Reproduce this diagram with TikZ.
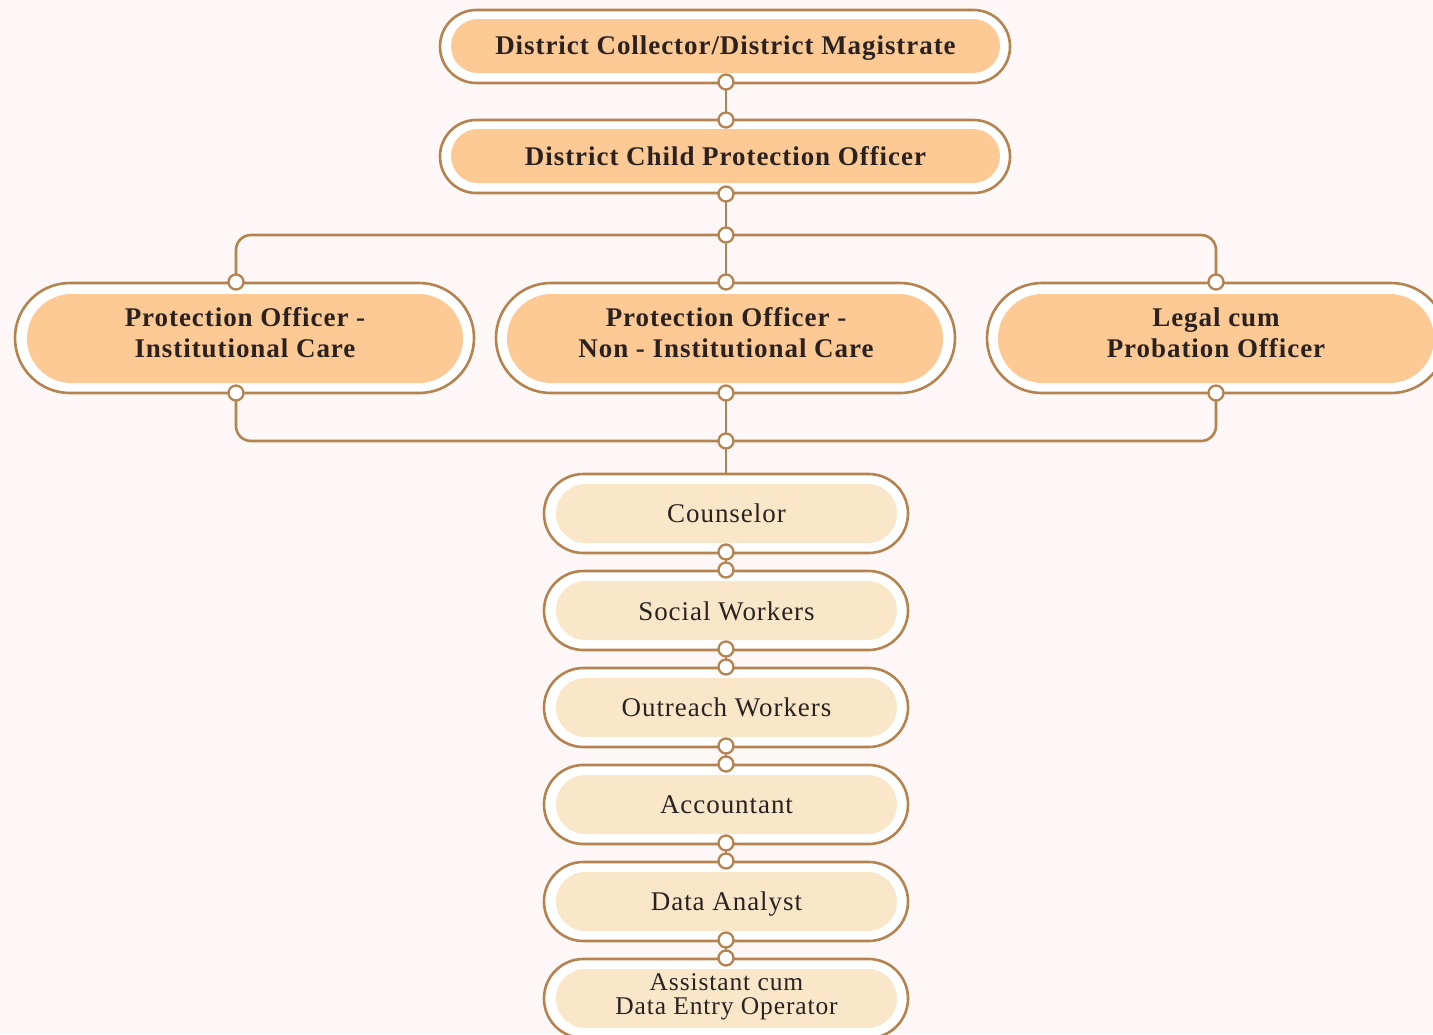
\documentclass[tikz,border=0pt]{standalone}
\usepackage{fontspec}
\setmainfont{Liberation Serif}[LetterSpace=3.5]
\definecolor{edge}{RGB}{181,131,79}
\definecolor{orng}{RGB}{253,201,148}
\definecolor{cream}{RGB}{250,231,201}
\definecolor{ink}{RGB}{43,34,32}
\definecolor{bgc}{RGB}{253,247,247}
\tikzset{
  outerbox/.style={draw=edge, line width=2.6pt, fill=white, rectangle, outer sep=0pt, inner sep=0pt},
  bigouter/.style={outerbox, minimum width=570pt, minimum height=73pt, rounded corners=36.4pt},
  biginner/.style={rectangle, fill=orng, inner sep=0pt, minimum width=549pt, minimum height=54pt, rounded corners=26.9pt},
  midouter/.style={outerbox, minimum width=459pt, minimum height=110pt, rounded corners=54.9pt},
  midinner/.style={rectangle, fill=orng, inner sep=0pt, minimum width=436pt, minimum height=89pt, rounded corners=44.4pt},
  smallouter/.style={outerbox, minimum width=364pt, minimum height=79pt, rounded corners=39.4pt},
  smallinner/.style={rectangle, fill=cream, inner sep=0pt, minimum width=341pt, minimum height=59pt, rounded corners=29.4pt},
  boldtext/.style={text=ink, align=center, inner sep=0pt, font=\fontsize{27}{31}\selectfont\bfseries},
  plaintext/.style={text=ink, align=center, inner sep=0pt, font=\fontsize{27}{31}\selectfont},
  dot/.style={circle, draw=edge, fill=white, line width=2.3pt, minimum size=15pt, inner sep=0pt, outer sep=0pt},
  link/.style={draw=edge, line width=2.6pt},
}
\begin{document}
\begin{tikzpicture}[x=1pt,y=-1pt]
\fill[bgc] (0,0) rectangle (1433,1034);
\useasboundingbox (0,0) rectangle (1433,1034);

% top boxes
\node[bigouter] (dco) at (725,46.5) {};
\node[biginner] (dc) at (725.5,46) {};
\node[boldtext] (dct) at (725.5,48) {District Collector/District Magistrate};
\node[bigouter] (dcpoo) at (725,156.5) {};
\node[biginner] (dcpo) at (725.5,156) {};
\node[boldtext] (dcpot) at (725.5,156.5) {District Child Protection Officer};

% middle boxes
\node[midouter] (po1o) at (244.5,338) {};
\node[midinner] (po1) at (245,338.5) {};
\node[boldtext] (po1t) at (245,332.5) {Protection Officer -\\Institutional Care};
\node[midouter] (po2o) at (725.5,338) {};
\node[midinner] (po2) at (725,338.5) {};
\node[boldtext] (po2t) at (726,332.5) {Protection Officer -\\Non - Institutional Care};
\node[midouter] (lpoo) at (1216.5,338) {};
\node[midinner] (lpo) at (1216,338.5) {};
\node[boldtext] (lpot) at (1216,332.5) {Legal cum\\Probation Officer};

% small boxes
\node[smallouter] (s1o) at (726,513.5) {};
\node[smallinner] (s1) at (726.5,513.5) {};
\node[plaintext] (s1t) at (726.5,513.5) {Counselor};
\node[smallouter] (s2o) at (726,610.5) {};
\node[smallinner] (s2) at (726.5,610.5) {};
\node[plaintext] (s2t) at (726.5,611.5) {Social Workers};
\node[smallouter] (s3o) at (726,707.5) {};
\node[smallinner] (s3) at (726.5,707.5) {};
\node[plaintext] (s3t) at (726.5,707.5) {Outreach Workers};
\node[smallouter] (s4o) at (726,804.5) {};
\node[smallinner] (s4) at (726.5,804.5) {};
\node[plaintext] (s4t) at (726.5,804.5) {Accountant};
\node[smallouter] (s5o) at (726,901.5) {};
\node[smallinner] (s5) at (726.5,901.5) {};
\node[plaintext] (s5t) at (726.5,904) {Data Analyst};
\node[smallouter] (s6o) at (726,998.5) {};
\node[smallinner] (s6) at (726.5,998.5) {};
\node[plaintext, font=\fontsize{25.5}{24}\selectfont] (s6t) at (726.5,996.5) {Assistant cum\\Data Entry Operator};

% dots
\node[dot] (a1) at (726,82) {};
\node[dot] (a2) at (726,120) {};
\node[dot] (a3) at (726,194) {};
\node[dot] (j1) at (726,235) {};
\node[dot] (t1) at (236,282) {};
\node[dot] (t2) at (726,282) {};
\node[dot] (t3) at (1216,282) {};
\node[dot] (b1) at (236,393) {};
\node[dot] (b2) at (726,393) {};
\node[dot] (b3) at (1216,393) {};
\node[dot] (j2) at (726,441) {};
\node[dot] (e1) at (726,552) {};
\node[dot] (f2) at (726,570) {};
\node[dot] (e2) at (726,649) {};
\node[dot] (f3) at (726,667) {};
\node[dot] (e3) at (726,746) {};
\node[dot] (f4) at (726,764) {};
\node[dot] (e4) at (726,843) {};
\node[dot] (f5) at (726,861) {};
\node[dot] (e5) at (726,940) {};
\node[dot] (f6) at (726,958) {};

% connectors
\draw[link] (a1) -- (a2);
\draw[link] (a3) -- (j1);
\draw[link, rounded corners=15pt] (j1) -| (t1);
\draw[link, rounded corners=15pt] (j1) -| (t3);
\draw[link] (j1) -- (t2);
\draw[link, rounded corners=15pt] (b1) |- (j2);
\draw[link, rounded corners=15pt] (b3) |- (j2);
\draw[link] (b2) -- (j2);
\draw[link] (j2) -- (s1o.north);
\draw[link] (e1) -- (f2);
\draw[link] (e2) -- (f3);
\draw[link] (e3) -- (f4);
\draw[link] (e4) -- (f5);
\draw[link] (e5) -- (f6);
\end{tikzpicture}
\end{document}
